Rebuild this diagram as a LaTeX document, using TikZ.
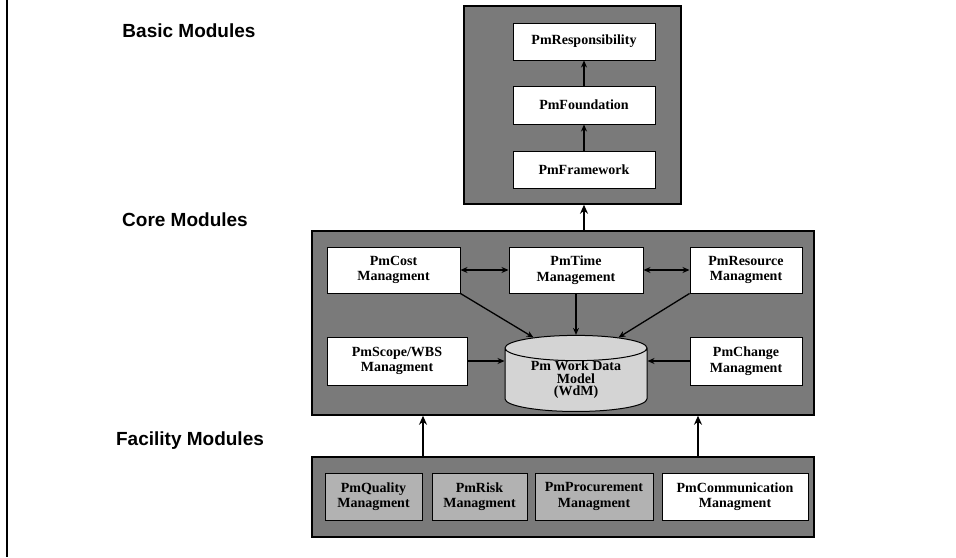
\documentclass[tikz,border=0pt]{standalone}
\usepackage{fontspec}
\setmainfont{Liberation Serif}
\setsansfont{Liberation Sans}
\usetikzlibrary{shapes.geometric,arrows.meta}

\definecolor{paneltex}{RGB}{122,122,122}
\definecolor{boxgray}{RGB}{178,178,178}
\definecolor{dbgray}{RGB}{212,212,212}

\tikzset{every picture/.style={line width=0.75pt}}
\tikzset{
  panel/.style={draw=black, line width=1.5pt, fill=paneltex},
  modbox/.style={draw=black, line width=1pt, fill=white, inner sep=0pt, align=center,
    font=\fontsize{14}{15.5}\selectfont\bfseries},
  facbox/.style={modbox, fill=boxgray},
  layer/.style={font=\sffamily\fontsize{19}{21}\selectfont\bfseries},
  uparrow/.style={-{Stealth[length=9pt,width=8pt]}, line width=2pt},
  link/.style={-{Stealth[length=7pt,width=6pt]}, line width=1.3pt}
}

\begin{document}
\begin{tikzpicture}[x=1pt,y=1pt,yscale=-1,xscale=1]
\useasboundingbox (0,0) rectangle (956,557);

\draw [line width=1.5pt] (7,0) -- (7,557);

% layer names
\node [layer] (basiclbl) at (189,31) {Basic Modules};
\node [layer] (corelbl) at (185,220) {Core Modules};
\node [layer] (faclbl) at (190,441) {Facility Modules};

% basic modules
\node [panel, minimum width=217, minimum height=198] (basic) at (572.5,105) {};
\node [modbox, minimum width=142, minimum height=37] (resp) at (584,41.5) {PmResponsibility};
\node [modbox, minimum width=142, minimum height=38] (found) at (584,105) {PmFoundation};
\node [modbox, minimum width=142, minimum height=37] (frame) at (584,169.5) {PmFramework};

\draw [link] (found) -- (resp);
\draw [link] (frame) -- (found);

% core modules
\node [panel, minimum width=502, minimum height=184] (core) at (563,323) {};
\node [modbox, minimum width=133, minimum height=46] (cost) at (393.5,270) {PmCost\\Managment};
\node [modbox, minimum width=134, minimum height=46] (time) at (576,270) {PmTime\\Management};
\node [modbox, minimum width=112, minimum height=46] (res) at (746,270) {PmResource\\Managment};
\node [modbox, minimum width=140, minimum height=48] (scope) at (397,361) {PmScope/WBS\\Managment};
\node [modbox, minimum width=112, minimum height=48] (change) at (746,361) {PmChange\\Managment};
\node [draw=black, line width=1pt, fill=dbgray, cylinder, shape border rotate=90, aspect=0.28,
  minimum width=142, minimum height=74, inner sep=0pt, align=center,
  font=\fontsize{14}{12.5}\selectfont\bfseries] (wdm) at (576,380) {Pm Work Data\\Model\\(WdM)};

\draw [link, {Stealth[length=7pt,width=6pt]}-{Stealth[length=7pt,width=6pt]}] (cost) -- (time);
\draw [link, {Stealth[length=7pt,width=6pt]}-{Stealth[length=7pt,width=6pt]}] (time) -- (res);
\draw [link] (cost.south east) -- (wdm.north west);
\draw [link] (time) -- (wdm.north);
\draw [link] (res.south west) -- (wdm.north east);
\draw [link] (scope.east) -- (scope.east -| wdm.west);
\draw [link] (change.west) -- (change.west -| wdm.east);

% facility modules
\node [panel, minimum width=502, minimum height=80] (facility) at (563,497) {};
\node [facbox, minimum width=97, minimum height=47] (quality) at (373.5,496.5) {PmQuality\\Managment};
\node [facbox, minimum width=95, minimum height=47] (risk) at (479.5,496.5) {PmRisk\\Managment};
\node [facbox, minimum width=118, minimum height=47] (procure) at (594,496.5) {PmProcurement\\Managment};
\node [modbox, minimum width=146, minimum height=47] (comm) at (735,496.5) {PmCommunication\\Managment};

% between layers
\draw [uparrow] (frame.south |- core.north) -- (frame.south |- basic.south);
\draw [uparrow] (facility.north -| 423,0) -- (core.south -| 423,0);
\draw [uparrow] (facility.north -| 698,0) -- (core.south -| 698,0);

\end{tikzpicture}
\end{document}
